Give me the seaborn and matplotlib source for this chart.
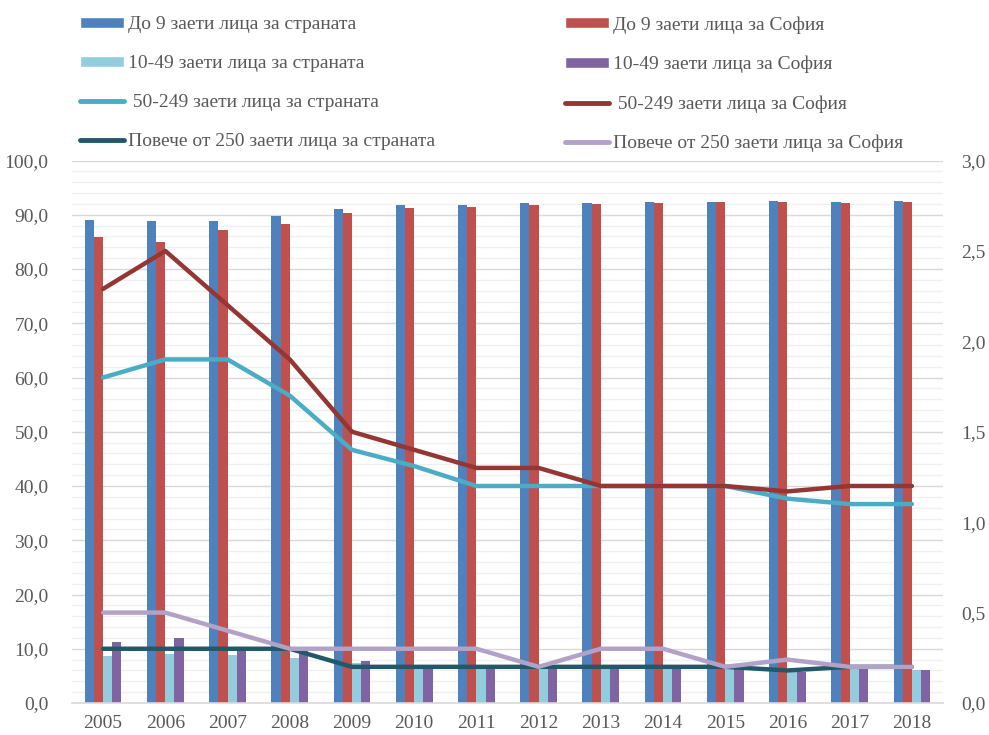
import numpy as np
import pandas as pd
import matplotlib
matplotlib.use("Agg")
import matplotlib.pyplot as plt
from matplotlib.patches import Patch
from matplotlib.lines import Line2D
from matplotlib.ticker import MultipleLocator, FuncFormatter
import seaborn as sns

# ---------------- data ----------------
years = [2005, 2006, 2007, 2008, 2009, 2010, 2011, 2012, 2013, 2014, 2015, 2016, 2017, 2018]

do9_country = [89.1, 88.8, 88.9, 89.7, 91.1, 91.8, 91.8, 92.1, 92.2, 92.3, 92.3, 92.6, 92.4, 92.6]
do9_sofia = [85.9, 85.0, 87.1, 88.3, 90.4, 91.3, 91.4, 91.8, 92.0, 92.2, 92.3, 92.4, 92.2, 92.4]
s10_49_country = [8.7, 9.1, 8.8, 8.3, 7.3, 6.6, 6.5, 6.4, 6.4, 6.4, 6.4, 5.8, 6.2, 6.1]
s10_49_sofia = [11.2, 11.9, 9.9, 9.6, 7.7, 6.6, 6.5, 6.4, 6.4, 6.4, 6.4, 5.8, 6.2, 6.1]

m50_country = [1.80, 1.90, 1.90, 1.70, 1.40, 1.31, 1.20, 1.20, 1.20, 1.20, 1.20, 1.13, 1.10, 1.10]
m50_sofia = [2.29, 2.50, 2.20, 1.90, 1.50, 1.40, 1.30, 1.30, 1.20, 1.20, 1.20, 1.17, 1.20, 1.20]
over250_country = [0.30, 0.30, 0.30, 0.30, 0.20, 0.20, 0.20, 0.20, 0.20, 0.20, 0.20, 0.18, 0.20, 0.20]
over250_sofia = [0.50, 0.50, 0.40, 0.30, 0.30, 0.30, 0.30, 0.20, 0.30, 0.30, 0.20, 0.24, 0.20, 0.20]

bar_labels = ["До 9 заети лица за страната", "До 9 заети лица за София",
              "10-49 заети лица за страната", "10-49 заети лица за София"]
line_labels = [" 50-249 заети лица за страната", " 50-249 заети лица за София",
               "Повече от 250 заети лица за страната", "Повече от 250 заети лица за София"]

bar_colors = ["#4F81BD", "#C0504D", "#93CDDD", "#8064A2"]
line_colors = ["#4BACC6", "#943634", "#215968", "#B3A2C7"]

# ---------------- style ----------------
sns.set_theme(style="white")
plt.rcParams["font.family"] = ["Liberation Serif", "DejaVu Serif"]
TXT = "#595959"
FS = 14

bars_df = pd.DataFrame({
    "year": np.repeat([str(y) for y in years], 4),
    "series": bar_labels * len(years),
    "value": np.ravel(np.column_stack([do9_country, do9_sofia, s10_49_country, s10_49_sofia])),
})

fig = plt.figure(figsize=(9.89, 7.35), dpi=100)
ax = fig.add_axes([72 / 989, 1 - 703 / 735, (943 - 72) / 989, (703 - 160.5) / 735])

sns.barplot(data=bars_df, x="year", y="value", hue="series", hue_order=bar_labels,
            palette=dict(zip(bar_labels, bar_colors)), saturation=1, width=0.59,
            gap=0, edgecolor="none", linewidth=0, legend=False, ax=ax, zorder=2)

ax.set_ylim(0, 100)
ax.set_xlim(-0.5, len(years) - 0.5)
ax.yaxis.set_major_locator(MultipleLocator(10))
ax.yaxis.set_minor_locator(MultipleLocator(2))
fmt = lambda v, p: f"{v:.1f}".replace(".", ",")
ax.yaxis.set_major_formatter(FuncFormatter(fmt))
ax.grid(axis="y", which="major", color="#d9d9d9", lw=1.0, zorder=0)
ax.grid(axis="y", which="minor", color="#f0f0f0", lw=1.0, zorder=0)
ax.set_axisbelow(True)
ax.set_xlabel("")
ax.set_ylabel("")
for s in ["top", "right", "left"]:
    ax.spines[s].set_visible(False)
ax.spines["bottom"].set_color("#d9d9d9")
ax.spines["bottom"].set_linewidth(1.2)
ax.tick_params(axis="y", which="both", length=0, labelsize=FS, labelcolor=TXT, pad=17)
ax.tick_params(axis="x", which="major", length=0, labelsize=FS, labelcolor=TXT, pad=9)
ax.set_xticks(np.arange(-0.5, len(years)), minor=True)
ax.tick_params(axis="x", which="minor", length=6, width=1.2, color="#d9d9d9", direction="out")

# ---------------- lines on secondary axis ----------------
ax2 = ax.twinx()
xpos = np.arange(len(years))
line_series = [m50_country, m50_sofia, over250_country, over250_sofia]
for vals, col, lab in zip(line_series, line_colors, line_labels):
    sns.lineplot(x=xpos, y=vals, color=col, lw=3.2, ax=ax2, legend=False,
                 solid_capstyle="round", solid_joinstyle="round", zorder=3)
ax2.set_ylim(0, 3)
ax2.yaxis.set_major_locator(MultipleLocator(0.5))
ax2.yaxis.set_major_formatter(FuncFormatter(fmt))
ax2.tick_params(axis="y", length=0, labelsize=FS, labelcolor=TXT, pad=13)
ax2.set_ylabel("")
ax2.grid(False)
for s in ax2.spines.values():
    s.set_visible(False)
ax.set_xlim(-0.5, len(years) - 0.5)

# ---------------- legends ----------------
col1 = [Patch(facecolor=bar_colors[0]), Patch(facecolor=bar_colors[2]),
        Line2D([], [], color=line_colors[0], lw=3.5, solid_capstyle="round"),
        Line2D([], [], color=line_colors[2], lw=3.5, solid_capstyle="round")]
lab1 = [bar_labels[0], bar_labels[2], line_labels[0], line_labels[2]]
col2 = [Patch(facecolor=bar_colors[1]), Patch(facecolor=bar_colors[3]),
        Line2D([], [], color=line_colors[1], lw=3.5, solid_capstyle="round"),
        Line2D([], [], color=line_colors[3], lw=3.5, solid_capstyle="round")]
lab2 = [bar_labels[1], bar_labels[3], line_labels[1], line_labels[3]]

common = dict(loc="upper left", frameon=False, fontsize=FS, labelcolor=TXT,
              handlelength=2.27, handleheight=0.5, handletextpad=0.2,
              labelspacing=1.14, borderpad=0, borderaxespad=0)
fig.legend(col1, lab1, bbox_to_anchor=(80 / 989, 1 - 16 / 735), **common)
fig.legend(col2, lab2, bbox_to_anchor=(565 / 989, 1 - 16 / 735), **common)

fig.savefig("out.png", dpi=100)
